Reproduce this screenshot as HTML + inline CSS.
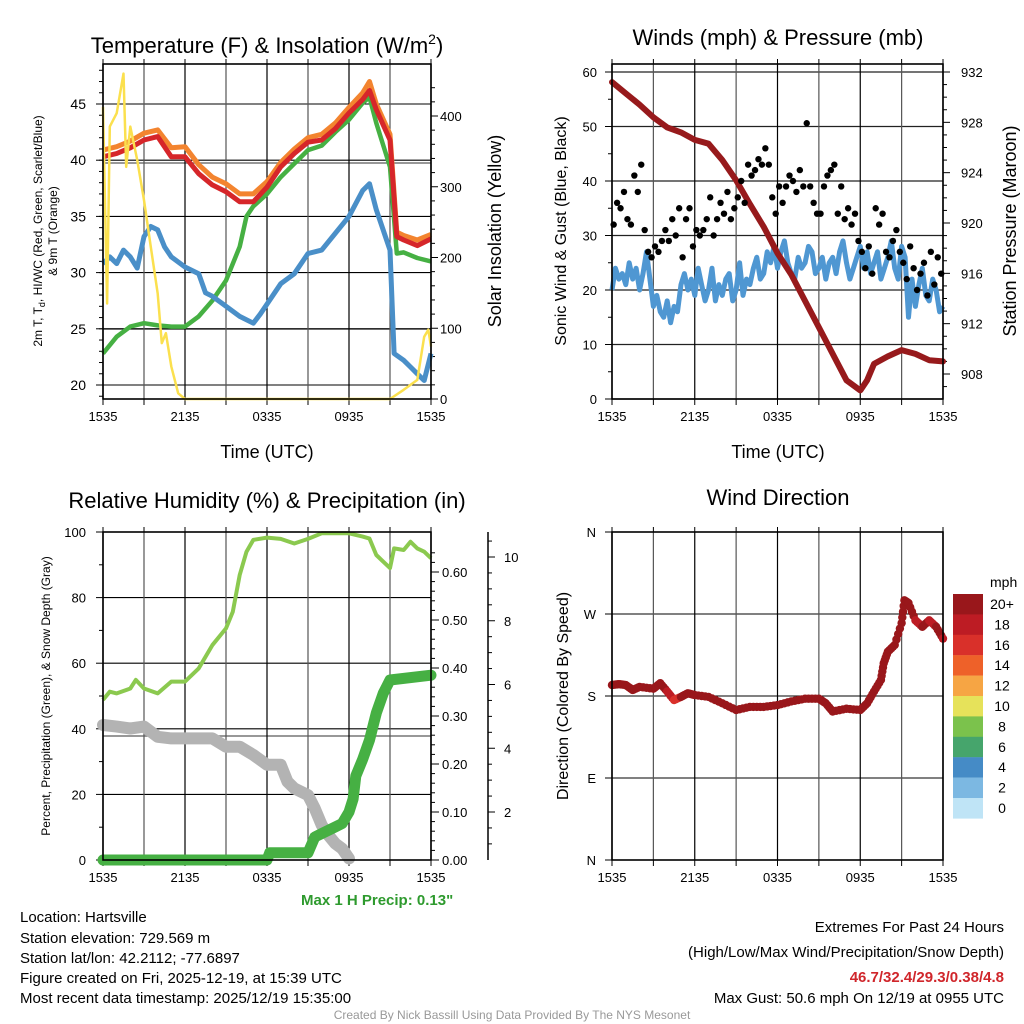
<!DOCTYPE html>
<html><head><meta charset="utf-8"><style>
body{margin:0;background:#fff}
svg{display:block;font-family:"Liberation Sans",sans-serif}
</style></head><body>
<svg id="chart" width="1024" height="1024" viewBox="0 0 1024 1024">
<rect width="1024" height="1024" fill="#fff"/>
<g id="g1"></g>
<g id="g2"></g>
<g id="g3"></g>
<g id="g4"></g>
<g font-size="15" fill="#000">
<text x="301" y="905" fill="#2e9a2e" font-weight="bold" font-size="15">Max 1 H Precip: 0.13"</text>
<text x="20" y="922">Location: Hartsville</text>
<text x="20" y="943">Station elevation: 729.569 m</text>
<text x="20" y="963">Station lat/lon: 42.2112; -77.6897</text>
<text x="20" y="983">Figure created on Fri, 2025-12-19, at 15:39 UTC</text>
<text x="20" y="1003">Most recent data timestamp: 2025/12/19 15:35:00</text>
<text x="1004" y="932" text-anchor="end">Extremes For Past 24 Hours</text>
<text x="1004" y="957" text-anchor="end">(High/Low/Max Wind/Precipitation/Snow Depth)</text>
<text x="1004" y="982" text-anchor="end" fill="#d0262b" font-weight="bold">46.7/32.4/29.3/0.38/4.8</text>
<text x="1004" y="1003" text-anchor="end">Max Gust: 50.6 mph On 12/19 at 0955 UTC</text>
<text x="512" y="1019" text-anchor="middle" fill="#999" font-size="12">Created By Nick Bassill Using Data Provided By The NYS Mesonet</text>
</g>
</svg>
<script>
// ---- data ----
const timeTicks=["1535","2135","0335","0935","1535"];
const tHours=[0,1,2,3,4,5,6,7,8,9,10,11,12,13,14,15,16,17,18,19,19.5,20,21,21.5,22,23,24];
const tempRed=[40.3,40.6,41.1,41.8,42.1,40.3,40.3,38.8,37.8,37.2,36.3,36.3,37.6,39.4,40.6,41.6,41.8,42.8,44.2,45.4,46.2,44.5,41.8,33.2,32.9,32.4,33.0];
const tempOrange=[40.9,41.2,41.7,42.4,42.7,41.1,41.2,39.6,38.5,37.9,37.0,37.0,38.1,39.8,41.0,42.0,42.3,43.3,44.7,46.0,47.0,45.0,42.3,33.6,33.3,32.9,33.4];
const gHours=[0,1,2,3,4,5,6,7,8,9,10,10.5,11,12,13,14,15,16,17,18,19,19.5,20,21,21.5,22,23,24];
const tempGreen=[22.8,24.3,25.2,25.5,25.3,25.2,25.2,26.1,27.5,29.3,32.3,35.0,35.9,37.0,38.5,39.7,40.9,41.3,42.5,43.6,45.1,45.6,43.3,39.4,31.7,31.8,31.3,31.0];
const bHours=[0,0.5,1,1.5,2,2.5,3,3.5,4,4.5,5,6,7,7.5,8,9,10,11,11.5,12,13,14,15,16,17,18,19,19.5,20,21,21.3,22,22.5,23,23.5,24];
const tempBlue=[30.8,31.4,30.8,32.0,31.4,30.4,33.2,34.1,33.8,32.3,31.4,30.5,29.9,28.2,27.9,27.0,26.1,25.5,26.3,27.2,29.0,29.9,31.7,32.0,33.5,35.0,37.3,37.9,35.6,32.0,22.8,22.2,21.6,21.0,20.4,22.8];
const sHours=[0,0.3,0.5,1,1.5,1.7,2,2.5,3,3.5,4,4.3,4.6,5,5.5,6,21,22,23,23.5,23.8,24];
const solar=[413,135,385,404,460,328,385,338,281,215,149,79,93,46,8,0,0,13,27,88,98,74];
// wind: 4 values per hour
const windSonic=[20,24,22,23,21,25,22,24,20,23,27,22,17,19,16,15,18,14,17,16,21,23,20,22,19,24,21,18,20,24,18,21,19,22,23,18,20,25,19,22,21,24,26,22,23,27,25,28,24,27,29,25,23,22,26,24,25,28,27,23,24,26,22,25,26,23,27,29,25,22,24,26,28,24,27,23,25,27,22,24,26,29,24,22,28,26,15,22,17,21,24,19,18,22,20,16,17];
const windGust=[32,36,35,38,33,32,41,38,43,31,27,26,28,27,29,31,29,33,30,35,26,33,35,28,31,30,31,33,37,30,33,36,34,38,33,35,37,40,36,43,41,42,44,43,46,43,37,34,39,36,39,41,40,38,42,39,50.6,39,36,34,34,39,41,42,43,34,39,33,35,32,34,29,27,24,28,23,35,32,34,27,26,29,31,27,25,22,28,24,20,23,25,19,27,21,26,23];
const pHours=[0,1,2,3,4,5,6,7,8,9,10,11,12,13,14,15,16,17,18,18.5,19,20,21,22,23,24];
const pressure=[931.2,930.3,929.4,928.4,927.6,927.2,926.6,926.3,925.0,923.4,921.5,919.7,917.6,915.9,913.8,911.7,909.6,907.5,906.7,907.5,908.8,909.4,909.9,909.6,909.1,909.0];
const rhHours=[0,0.5,1,2,2.4,3,4,5,6,7,8,9,9.5,10,10.5,11,12,13,14,15,16,17,18,19,19.5,20,21,21.3,22,22.5,23,23.5,24];
const rh=[48.8,51.3,50.8,52.3,54.9,52.3,50.8,54.4,54.4,58.4,65.5,70.6,75.7,86.9,94,97.6,98.3,97.9,96.5,97.9,99.6,99.6,99.6,98.6,98,93,89,95,94.5,97,95,94,92];
const snHours=[0,1,2,3,4,5,6,7,8,9,10,11,12,13,13.5,14,15,15.5,16,16.5,17,17.5,18];
const snow=[4.73,4.68,4.62,4.68,4.36,4.31,4.31,4.31,4.31,4.05,4.05,3.79,3.48,3.48,2.95,2.74,2.53,2.11,1.59,1.27,1.01,0.85,0.54];
const prHours=[0,12,12.2,15,15.5,16,17,17.5,18,18.3,18.5,19,19.5,20,20.5,21,24];
const precip=[0,0,0.015,0.015,0.048,0.055,0.069,0.076,0.10,0.127,0.175,0.21,0.25,0.306,0.347,0.375,0.385];
const dHours=[0,0.5,1,1.5,2,3,3.5,4,4.5,5,5.5,6,7,8,9,10,11,12,13,14,15,15.5,16,17,18,18.5,19,19.5,19.7,20,20.5,21,21.2,21.5,22,22.5,23,23.5,24];
const dirDeg=[192,193,192,186.6,190,188,194,185,175.6,179,183,181,179,172,164.6,168,168,170,174,177,177,172,163,166,164.6,172,185,197.6,216,228.6,236,260,285,282,263,256,263,256,243];
const dirSpeed=[22,22,21,21,22,21,22,17,15,19,21,22,22,22,22,22,22,22,22,22,22,22,22,22,22,22,22,22,21,22,22,21,22,20,17,19,18,21,18];
const legendLabels=["20+","18","16","14","12","10","8","6","4","2","0"];
const legendColors=["#99171b","#bd1c24","#d9302a","#ee6129","#f6a544","#e6e25a","#7bc24c","#46a56c","#458bc6","#7cb8e2","#bfe4f6"];

// ---- helpers ----
const NS="http://www.w3.org/2000/svg";
function mk(parent,tag,attrs,text){const e=document.createElementNS(NS,tag);for(const k in attrs)e.setAttribute(k,attrs[k]);if(text!==undefined)e.textContent=text;parent.appendChild(e);return e;}
function lin(d0,d1,r0,r1){return v=>r0+(v-d0)/(d1-d0)*(r1-r0);}
function pts(xs,ys,fx,fy){return xs.map((h,i)=>fx(h).toFixed(1)+","+fy(ys[i]).toFixed(1)).join(" ");}
function frameX(g,x0,x1,y0,y1,fx){
  for(let h=0;h<=24;h+=3){const l=mk(g,'line',{x1:fx(h),x2:fx(h),y1:y0,y2:y1,stroke:h%6?'#555':'#000','stroke-width':1.2});
    
    mk(g,'line',{x1:fx(h),x2:fx(h),y1:y0,y2:y0-5,stroke:'#000'});mk(g,'line',{x1:fx(h),x2:fx(h),y1:y1,y2:y1+6,stroke:'#000'});}
  timeTicks.forEach((t,i)=>{const e=mk(g,'text',{x:fx(i*6),y:y1+22,'text-anchor':'middle','font-size':13},t);
    });
}
function box(g,x0,x1,y0,y1){const r=mk(g,'rect',{x:x0,y:y0,width:x1-x0,height:y1-y0,fill:'none',stroke:'#000','stroke-width':1.6});}
function title(g,x,y,t,name){const e=mk(g,'text',{x:x,y:y,'text-anchor':'middle','font-size':22},t);return e;}

// ---- panel 1 ----
(function(){
const g=document.getElementById('g1');const X0=103,X1=431,Y0=64,Y1=399;
const fx=lin(0,24,X0,X1),fy=lin(20,45,385,104),fs=lin(0,400,399,116);
[163,329].forEach(y=>mk(g,'line',{x1:X0,x2:X1,y1:y,y2:y,stroke:'#777','stroke-width':1.5}));
for(let v=20;v<=45;v+=5){const l=mk(g,'line',{x1:X0,x2:X1,y1:fy(v),y2:fy(v),stroke:'#000','stroke-width':1.1});
 mk(g,'line',{x1:X0-7,x2:X0,y1:fy(v),y2:fy(v),stroke:'#000'});
 const t=mk(g,'text',{x:X0-17,y:fy(v)+5,'text-anchor':'end','font-size':14},v);}
for(let v=19;v<=48;v++)mk(g,'line',{x1:X0-4,x2:X0,y1:fy(v),y2:fy(v),stroke:'#000'});
for(let v=0;v<=440;v+=20)mk(g,'line',{x1:X1,x2:X1+(v%100?4:7),y1:fs(v),y2:fs(v),stroke:'#000'});
for(let v=0;v<=400;v+=100){const t=mk(g,'text',{x:X1+9,y:fs(v)+5,'font-size':13},v);}
frameX(g,X0,X1,Y0,Y1,fx);
let s;
s=mk(g,'polyline',{points:pts(gHours,tempGreen,fx,fy),fill:'none',stroke:'#46b043','stroke-width':4.5,'stroke-linejoin':'round'});
s=mk(g,'polyline',{points:pts(bHours,tempBlue,fx,fy),fill:'none',stroke:'#4a8fc8','stroke-width':5,'stroke-linejoin':'round'});
s=mk(g,'polyline',{points:pts(tHours,tempOrange,fx,fy),fill:'none',stroke:'#f3842f','stroke-width':5,'stroke-linejoin':'round'});
s=mk(g,'polyline',{points:pts(tHours,tempRed,fx,fy),fill:'none',stroke:'#d6262a','stroke-width':5,'stroke-linejoin':'round'});
s=mk(g,'polyline',{points:pts(sHours,solar,fx,fs),fill:'none',stroke:'#fbe04e','stroke-width':2.5,'stroke-linejoin':'round'});
box(g,X0,X1,Y0,Y1);
const tt=title(g,267,53,'Temperature (F) & Insolation (W/m','temp-title');const sp=mk(tt,'tspan',{dy:-9,'font-size':14},'2');const sp2=mk(tt,'tspan',{dy:9},')');
let t=mk(g,'text',{x:267,y:458,'text-anchor':'middle','font-size':18},'Time (UTC)');
t=mk(g,'text',{transform:'translate(42,231) rotate(-90)','text-anchor':'middle','font-size':12},'2m T, T');
mk(t,'tspan',{dy:3,'font-size':9},'d');mk(t,'tspan',{dy:-3},', HI/WC (Red, Green, Scarlet/Blue)');
t=mk(g,'text',{transform:'translate(57,231) rotate(-90)','text-anchor':'middle','font-size':12},'& 9m T (Orange)');
t=mk(g,'text',{transform:'translate(501,231) rotate(-90)','text-anchor':'middle','font-size':18},'Solar Insolation (Yellow)');
})();

// ---- panel 2 ----
(function(){
const g=document.getElementById('g2');const X0=612,X1=943,Y0=64,Y1=399;
const fx=lin(0,24,X0,X1),fy=lin(0,60,399,72),fp=lin(908,932,374,72);
for(let v=0;v<=60;v+=10){const l=mk(g,'line',{x1:X0,x2:X1,y1:fy(v),y2:fy(v),stroke:'#222','stroke-width':1.3});
 mk(g,'line',{x1:X0-7,x2:X0,y1:fy(v),y2:fy(v),stroke:'#000'});
 const t=mk(g,'text',{x:X0-15,y:fy(v)+5,'text-anchor':'end','font-size':13},v);}
for(let v=0;v<=62;v+=5)mk(g,'line',{x1:X0-4,x2:X0,y1:fy(v),y2:fy(v),stroke:'#000'});
for(let v=907;v<=932;v++)mk(g,'line',{x1:X1,x2:X1+(v%4?4:7),y1:fp(v),y2:fp(v),stroke:'#000'});
for(let v=908;v<=932;v+=4){const t=mk(g,'text',{x:X1+18,y:fp(v)+5,'font-size':13},v);}
frameX(g,X0,X1,Y0,Y1,fx);
const wh=windSonic.map((v,i)=>i/4);
let s=mk(g,'polyline',{points:pts(wh,windSonic,fx,fy),fill:'none',stroke:'#4f97d2','stroke-width':5,'stroke-linejoin':'round'});
s=mk(g,'polyline',{points:pts(pHours,pressure,fx,fp),fill:'none',stroke:'#971a1c','stroke-width':6,'stroke-linejoin':'round','stroke-linecap':'round'});
windGust.forEach((v,i)=>{const c=mk(g,'circle',{cx:fx(i/4+0.12),cy:fy(v),r:3.2,fill:'#000'});
 
 });
box(g,X0,X1,Y0,Y1);
title(g,778,45,'Winds (mph) & Pressure (mb)','wind-title');
let t=mk(g,'text',{x:778,y:458,'text-anchor':'middle','font-size':18},'Time (UTC)');
t=mk(g,'text',{transform:'translate(566,231) rotate(-90)','text-anchor':'middle','font-size':16},'Sonic Wind & Gust (Blue, Black)');
t=mk(g,'text',{transform:'translate(1016,231) rotate(-90)','text-anchor':'middle','font-size':18},'Station Pressure (Maroon)');
})();

// ---- panel 3 ----
(function(){
const g=document.getElementById('g3');const X0=103,X1=431,Y0=532,Y1=860;
const fx=lin(0,24,X0,X1),fy=lin(0,100,860,532),fpr=lin(0,0.6,860,572),fsn=lin(0,10,875.75,557);
mk(g,'line',{x1:X0,x2:X1,y1:736,y2:736,stroke:'#777','stroke-width':1.5});
for(let v=0;v<=100;v+=20){const l=mk(g,'line',{x1:X0,x2:X1,y1:fy(v),y2:fy(v),stroke:'#000','stroke-width':1.1});
 mk(g,'line',{x1:X0-7,x2:X0,y1:fy(v),y2:fy(v),stroke:'#000'});
 const t=mk(g,'text',{x:X0-17,y:fy(v)+5,'text-anchor':'end','font-size':13},v);}
for(let v=10;v<=90;v+=20)mk(g,'line',{x1:X0-4,x2:X0,y1:fy(v),y2:fy(v),stroke:'#000'});
for(let v=0;v<=0.66;v+=0.02){const k=Math.round(v*100);mk(g,'line',{x1:X1,x2:X1+(k%10?4:8),y1:fpr(v),y2:fpr(v),stroke:'#000'});}
for(let k=0;k<=6;k++){const t=mk(g,'text',{x:X1+11,y:fpr(k/10)+5,'font-size':13},(k/10).toFixed(2));}
mk(g,'line',{x1:488,x2:488,y1:532,y2:860,stroke:'#000','stroke-width':1.5});
for(let v=1;v<=10.5;v+=0.5)mk(g,'line',{x1:488,x2:488+(v%2?4:7),y1:fsn(v),y2:fsn(v),stroke:'#000'});
for(let v=2;v<=10;v+=2){const t=mk(g,'text',{x:504,y:fsn(v)+5,'font-size':13},v);}
frameX(g,X0,X1,Y0,Y1,fx);
let s=mk(g,'polyline',{points:pts(rhHours,rh,fx,fy),fill:'none',stroke:'#8bc94f','stroke-width':4,'stroke-linejoin':'round'});
s=mk(g,'polyline',{points:pts(snHours,snow,fx,fsn),fill:'none',stroke:'#b3b3b3','stroke-width':12,'stroke-linejoin':'round','stroke-linecap':'round'});
s=mk(g,'polyline',{points:pts(prHours,precip,fx,fpr),fill:'none',stroke:'#46b043','stroke-width':11,'stroke-linejoin':'round','stroke-linecap':'round'});
box(g,X0,X1,Y0,Y1);
title(g,267,508,'Relative Humidity (%) & Precipitation (in)','rh-title');
let t=mk(g,'text',{transform:'translate(50,696) rotate(-90)','text-anchor':'middle','font-size':12},'Percent, Precipitation (Green), & Snow Depth (Gray)');
})();

// ---- panel 4 ----
(function(){
const g=document.getElementById('g4');const X0=612,X1=943,Y0=532,Y1=860;
const fx=lin(0,24,X0,X1),fy=lin(0,360,860,532);
const lbl=["N","E","S","W","N"];
for(let k=0;k<=4;k++){const v=k*90;const l=mk(g,'line',{x1:X0,x2:X1,y1:fy(v),y2:fy(v),stroke:'#000','stroke-width':1.1});
 mk(g,'line',{x1:X0-7,x2:X0,y1:fy(v),y2:fy(v),stroke:'#000'});
 const t=mk(g,'text',{x:X0-16,y:fy(v)+5,'text-anchor':'end','font-size':13},lbl[k]);}
frameX(g,X0,X1,Y0,Y1,fx);
function col(sp){const i=Math.min(10,Math.max(0,Math.round(sp/2)));return legendColors[10-i];}
for(let i=0;i<dHours.length-1;i++){for(let j=0;j<4;j++){const f=j/4;const h=dHours[i]+(dHours[i+1]-dHours[i])*f;const d=dirDeg[i]+(dirDeg[i+1]-dirDeg[i])*f;
 const c=mk(g,'circle',{cx:fx(h),cy:fy(d),r:4.2,fill:col(dirSpeed[i])});
 
 }}
const last=dHours.length-1;
const c=mk(g,'circle',{cx:fx(dHours[last]),cy:fy(dirDeg[last]),r:4.2,fill:col(dirSpeed[last])});


box(g,X0,X1,Y0,Y1);
title(g,778,505,'Wind Direction','direction-title');
let t=mk(g,'text',{transform:'translate(568,696) rotate(-90)','text-anchor':'middle','font-size':16},'Direction (Colored By Speed)');
t=mk(g,'text',{x:990,y:587,'font-size':14},'mph');
legendLabels.forEach((l,i)=>{const r=mk(g,'rect',{x:953,y:594+i*20.4,width:30,height:20.6,fill:legendColors[i]});
 
 const tx=mk(g,'text',{x:1002,y:594+i*20.4+15,'text-anchor':'middle','font-size':14},l);
 });
})();
</script>
</body></html>
